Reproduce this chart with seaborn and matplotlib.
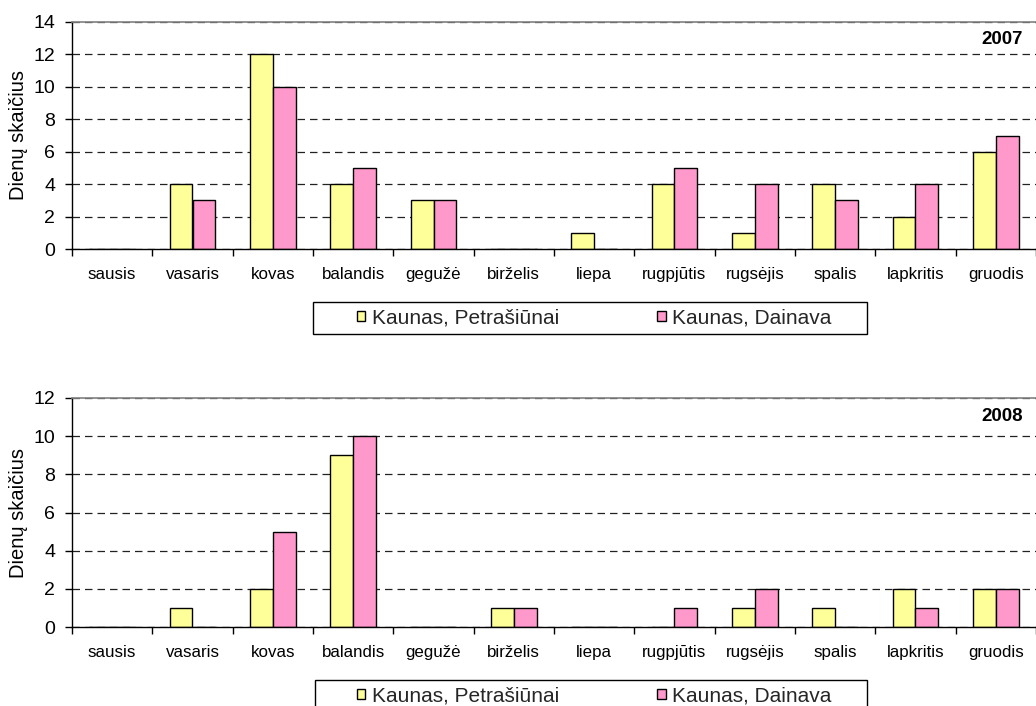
import numpy as np
import pandas as pd
import matplotlib
matplotlib.use("Agg")
import matplotlib.pyplot as plt
import seaborn as sns
from matplotlib.patches import Patch, Rectangle

# Monthly counts of days per station, 2007 and 2008
months = ["sausis", "vasaris", "kovas", "balandis", "gegužė", "birželis",
          "liepa", "rugpjūtis", "rugsėjis", "spalis", "lapkritis", "gruodis"]
stations = ["Kaunas, Petrašiūnai", "Kaunas, Dainava"]
colors = ["#FFFF99", "#FF99CC"]

petrasiunai_2007 = [0, 4, 12, 4, 3, 0, 1, 4, 1, 4, 2, 6]
dainava_2007 = [0, 3, 10, 5, 3, 0, 0, 5, 4, 3, 4, 7]
petrasiunai_2008 = [0, 1, 2, 9, 0, 1, 0, 0, 1, 1, 2, 2]
dainava_2008 = [0, 0, 5, 10, 0, 1, 0, 1, 2, 0, 1, 2]

years = ["2007", "2008"]
y_max = [14, 12]
y_label = "Dienų skaičius"

sns.set_theme(style="white")
plt.rcParams["font.family"] = ["Liberation Sans", "DejaVu Sans"]

W, H = 1036, 706
fig = plt.figure(figsize=(W / 100, H / 100), dpi=100)

# axes boxes in pixels: (left, top, right, bottom)
boxes = [(72, 22, 1036, 249), (72, 398, 1036, 627)]
legend_boxes = [(313, 302, 867, 334), (315, 680, 867, 712)]

series = [(petrasiunai_2007, dainava_2007), (petrasiunai_2008, dainava_2008)]
palette = dict(zip(stations, colors))

for i, (year, (a, b)) in enumerate(zip(years, series)):
    l, t, r, btm = boxes[i]
    ax = fig.add_axes([l / W, 1 - btm / H, (r - l) / W, (btm - t) / H])

    df = pd.DataFrame({
        "month": months * 2,
        "station": [stations[0]] * 12 + [stations[1]] * 12,
        "days": list(a) + list(b),
    })
    sns.barplot(data=df, x="month", y="days", hue="station", order=months,
                hue_order=stations, palette=palette, width=0.57,
                edgecolor="black", linewidth=1.0, legend=False, ax=ax,
                saturation=1)

    ax.set_xlim(-0.5, 11.5)
    ax.set_ylim(0, y_max[i])
    ax.set_yticks(np.arange(0, y_max[i] + 1, 2))
    ax.set_xticks(range(12))
    ax.set_xticklabels(months)
    ax.set_xticks(np.arange(-0.5, 12, 1), minor=True)
    ax.tick_params(axis="x", which="major", length=0, pad=13, labelsize=12.2,
                   colors="black")
    ax.tick_params(axis="x", which="minor", length=5, width=1,
                   direction="out", color="black", bottom=True)
    ax.tick_params(axis="y", which="major", length=5, width=1,
                   direction="out", color="black", left=True, pad=7,
                   labelsize=14, labelcolor="black")
    ax.set_xlabel("")
    ax.set_ylabel(y_label, fontsize=14.5, color="black")
    ax.yaxis.set_label_coords(-0.0455, 0.5)

    ax.set_axisbelow(True)
    ax.yaxis.grid(True, linestyle=(0, (6, 4)), color="#222222", linewidth=0.9)
    ax.xaxis.grid(False)

    for side in ("left", "bottom"):
        ax.spines[side].set_color("black")
        ax.spines[side].set_linewidth(1.0)
        ax.spines[side].set_visible(True)
    ax.spines["top"].set_color("#808080")
    ax.spines["top"].set_linewidth(1.2)
    ax.spines["top"].set_visible(True)
    ax.spines["right"].set_visible(False)

    ax.text(0.9865, 0.921, year, transform=ax.transAxes, ha="right",
            va="center", fontsize=13.5, fontweight="bold", color="black")

    # legend frame and entries
    ll, lt, lr, lb = legend_boxes[i]
    fig.patches.append(Rectangle((ll / W, 1 - lb / H), (lr - ll) / W,
                                 (lb - lt) / H, transform=fig.transFigure,
                                 fill=False, edgecolor="black", linewidth=1.0))
    handles = [Patch(facecolor=c, edgecolor="black", linewidth=1.0)
               for c in colors]
    fig.legend(handles, stations, loc="center",
               bbox_to_anchor=(594 / W, 1 - (lt + 16) / H),
               bbox_transform=fig.transFigure, frameon=False, ncol=2,
               fontsize=15, handlelength=0.42, handleheight=0.42,
               handletextpad=0.3, columnspacing=4.7, borderpad=0.0)

fig.savefig("out.png", dpi=100)
